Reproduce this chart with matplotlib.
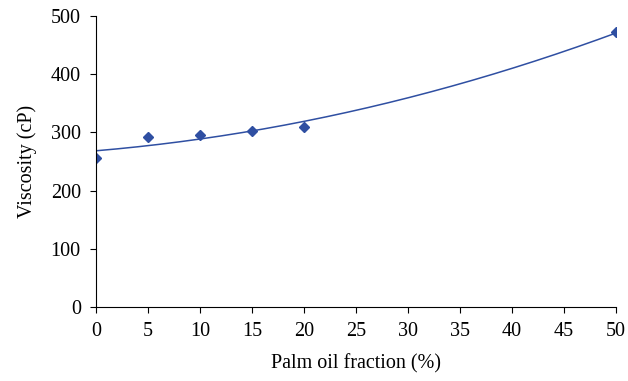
import numpy as np
import matplotlib
matplotlib.use("Agg")
import matplotlib.pyplot as plt

# measured points
palm_fraction = [0, 5, 10, 15, 20, 50]
viscosity = [256, 292, 295, 303, 309, 472]

x_ticks = [0, 5, 10, 15, 20, 25, 30, 35, 40, 45, 50]
y_ticks = [0, 100, 200, 300, 400, 500]

BLUE = "#2f4fa2"

plt.rcParams["font.family"] = ["Liberation Serif", "DejaVu Serif"]
plt.rcParams["font.size"] = 14.5

fig = plt.figure(figsize=(6.28, 3.81), dpi=100)
ax = fig.add_axes([0.153, 0.194, 0.828, 0.764])

# second-order trend line fitted to the measured points
coef = np.polyfit(palm_fraction, viscosity, 2)
xs = np.linspace(min(palm_fraction), max(palm_fraction), 200)
ax.plot(xs, np.polyval(coef, xs), color=BLUE, linewidth=1.1)
ax.plot(palm_fraction, viscosity, linestyle="none", marker="D",
        markersize=5.5, color=BLUE)

ax.set_xlim(0, 50)
ax.set_ylim(0, 500)
ax.set_xticks(x_ticks)
ax.set_yticks(y_ticks)
ax.tick_params(direction="out", length=4, width=0.8, labelsize=14.5, pad=7)
ax.spines["top"].set_visible(False)
ax.spines["right"].set_visible(False)
ax.spines["left"].set_linewidth(0.8)
ax.spines["bottom"].set_linewidth(0.8)

ax.set_xlabel("Palm oil fraction (%)", fontsize=14.5, labelpad=9)
ax.set_ylabel("Viscosity (cP)", fontsize=14.5, labelpad=10)

fig.savefig("out.png", dpi=100)
